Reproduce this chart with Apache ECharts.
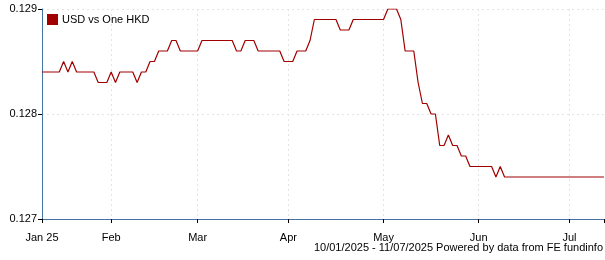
<!DOCTYPE html>
<html>
<head>
<meta charset="utf-8">
<script src="https://cdn.jsdelivr.net/npm/echarts@6/dist/echarts.min.js"></script>
<style>html,body{margin:0;padding:0;background:#fff}#c{width:605px;height:260px}</style>
</head>
<body>
<div id="c"></div>
<script>
// Business-day categories from 10 Jan 2025 to 11 Jul 2025
const startDate = '2025-01-10';
const endDate = '2025-07-11';
const monthLabels = ['Jan 25','Feb','Mar','Apr','May','Jun','Jul'];
const seriesName = 'USD vs One HKD';
const footerText = '10/01/2025 - 11/07/2025 Powered by data from FE fundinfo';
const yTicks = [0.127, 0.128, 0.129];
const values = [
  0.1284,0.1284,0.1284,0.1284,0.1284,0.1285,0.1284,0.1285,0.1284,0.1284,
  0.1284,0.1284,0.1284,0.1283,0.1283,0.1283,0.1284,0.1283,0.1284,0.1284,
  0.1284,0.1284,0.1283,0.1284,0.1284,0.1285,0.1285,0.1286,0.1286,0.1286,
  0.1287,0.1287,0.1286,0.1286,0.1286,0.1286,0.1286,0.1287,0.1287,0.1287,
  0.1287,0.1287,0.1287,0.1287,0.1287,0.1286,0.1286,0.1287,0.1287,0.1287,
  0.1286,0.1286,0.1286,0.1286,0.1286,0.1286,0.1285,0.1285,0.1285,0.1286,
  0.1286,0.1286,0.1287,0.1289,0.1289,0.1289,0.1289,0.1289,0.1289,0.1288,
  0.1288,0.1288,0.1289,0.1289,0.1289,0.1289,0.1289,0.1289,0.1289,0.1289,
  0.1290,0.1290,0.1290,0.1289,0.1286,0.1286,0.1286,0.1283,0.1281,0.1281,
  0.1280,0.1280,0.1277,0.1277,0.1278,0.1277,0.1277,0.1276,0.1276,0.1275,
  0.1275,0.1275,0.1275,0.1275,0.1275,0.1274,0.1275,0.1274,0.1274,0.1274,
  0.1274,0.1274,0.1274,0.1274,0.1274,0.1274,0.1274,0.1274,0.1274,0.1274,
  0.1274,0.1274,0.1274,0.1274,0.1274,0.1274,0.1274,0.1274,0.1274,0.1274,
  0.1274
];

const dates = [];
{
  const d = new Date(startDate + 'T00:00:00Z');
  const e = new Date(endDate + 'T00:00:00Z');
  while (d <= e) {
    const wd = d.getUTCDay();
    if (wd !== 0 && wd !== 6) dates.push(d.toISOString().slice(0, 10));
    d.setUTCDate(d.getUTCDate() + 1);
  }
}
// month-start indices
const monthStart = {};
let mi = 0;
dates.forEach((ds, i) => {
  const m = ds.slice(0, 7);
  if (i === 0 || m !== dates[i - 1].slice(0, 7)) { monthStart[i] = monthLabels[mi++]; }
});

const FONT = 'Liberation Sans, Arial, sans-serif';
const lineColor = '#a00000';
const axisColor = '#4572a7';

const chart = echarts.init(document.getElementById('c'), null, {renderer: 'canvas'});
chart.setOption({
  animation: false,
  grid: {left: 42, right: 1, top: 9, bottom: 41, containLabel: false},
  legend: {
    left: 47, top: 14, padding: 0, itemWidth: 11, itemHeight: 11, itemGap: 5,
    icon: 'rect',
    textStyle: {fontFamily: FONT, fontSize: 11, color: '#000', padding: [0,0,0,-1]},
    data: [{name: seriesName, itemStyle: {color: lineColor}}]
  },
  xAxis: {
    type: 'category',
    data: dates,
    boundaryGap: false,
    axisLine: {lineStyle: {color: axisColor, width: 1}},
    axisTick: {
      length: 4, lineStyle: {color: '#000'},
      interval: (i) => monthStart[i] !== undefined || i === dates.length - 1
    },
    axisLabel: {
      interval: (i) => monthStart[i] !== undefined,
      formatter: (v, i) => monthStart[i] || '',
      fontFamily: FONT, fontSize: 11, color: '#000', margin: 13
    },
    splitLine: {
      show: true,
      interval: (i) => monthStart[i] !== undefined && i !== 0,
      lineStyle: {color: '#e4e4e4', type: [2, 3], width: 1}
    }
  },
  yAxis: {
    type: 'value',
    min: yTicks[0], max: yTicks[yTicks.length - 1], interval: 0.001,
    axisLine: {show: true, lineStyle: {color: axisColor, width: 1}},
    axisTick: {show: true, length: 4, lineStyle: {color: '#000'}},
    axisLabel: {
      fontFamily: FONT, fontSize: 11, color: '#000', margin: 5,
      formatter: (v) => v.toFixed(3)
    },
    splitLine: {show: true, lineStyle: {color: '#e4e4e4', type: [2, 3], width: 1}}
  },
  series: [{
    name: seriesName,
    type: 'line',
    data: values,
    symbol: 'none',
    lineStyle: {color: lineColor, width: 1.2},
    itemStyle: {color: lineColor}
  }],
  graphic: [{
    type: 'text', right: 2, top: 242,
    style: {text: footerText, font: '11px ' + FONT, fill: '#000'}
  }]
});
</script>
</body>
</html>
